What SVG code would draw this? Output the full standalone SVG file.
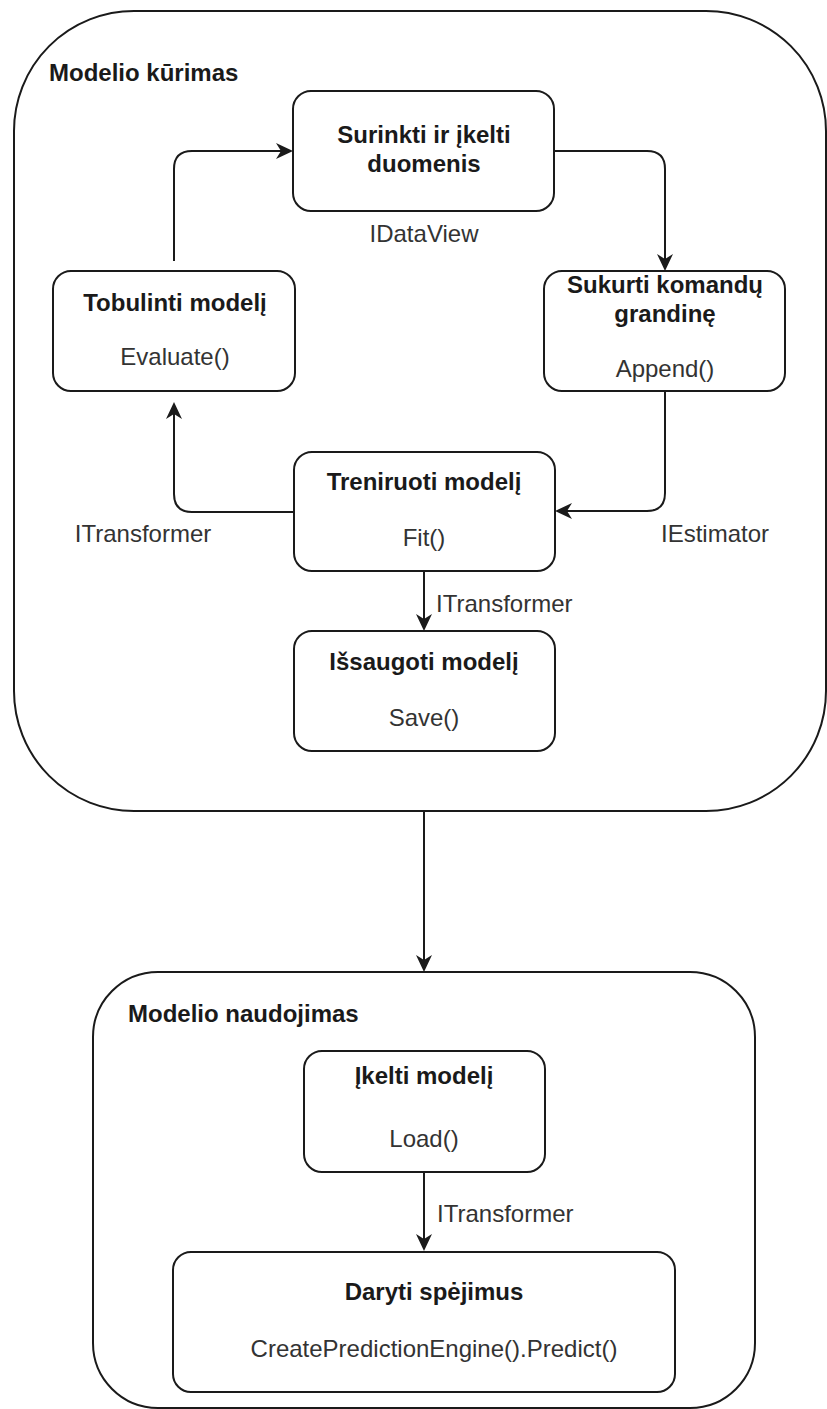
<svg xmlns="http://www.w3.org/2000/svg" width="827" height="1409" viewBox="0 0 827 1409">
<style>
.box{fill:#fff;stroke:#1a1a1a;stroke-width:2}
.cont{fill:#fff;stroke:#1a1a1a;stroke-width:2}
.edge{fill:none;stroke:#1a1a1a;stroke-width:2;marker-end:url(#arr)}
.b{font-family:"Liberation Sans",Arial,sans-serif;font-size:24px;font-weight:bold;fill:#1a1a1a;text-anchor:middle}
.t{font-family:"Liberation Sans",Arial,sans-serif;font-size:24px;fill:#333;text-anchor:middle}
.lbl{font-family:"Liberation Sans",Arial,sans-serif;font-size:24px;fill:#333}
.title{font-family:"Liberation Sans",Arial,sans-serif;font-size:24px;font-weight:bold;fill:#1a1a1a}
</style>
<defs>
<marker id="arr" viewBox="-14 -9 19 18" refX="0" refY="0" markerWidth="19" markerHeight="18" markerUnits="userSpaceOnUse" orient="auto">
<path d="M4,0 L-13,-8 L-8,0 L-13,8 Z" fill="#1a1a1a"/>
</marker>
</defs>
<rect width="827" height="1409" fill="#fff"/>

<g id="container-kurimas">
<rect class="cont" x="14" y="11" width="812" height="800" rx="120" ry="120"/>
<text class="title" x="49" y="81">Modelio kūrimas</text>
</g>

<g id="container-naudojimas">
<rect class="cont" x="93" y="972" width="662" height="436" rx="65" ry="65"/>
<text class="title" x="128" y="1022">Modelio naudojimas</text>
</g>

<g id="node-surinkti">
<rect class="box" x="293" y="91" width="261" height="120" rx="18" ry="18"/>
<text class="b" x="424" y="143">Surinkti ir įkelti</text>
<text class="b" x="424" y="172">duomenis</text>
</g>

<g id="node-sukurti">
<rect class="box" x="544" y="271" width="241" height="120" rx="18" ry="18"/>
<text class="b" x="665" y="293">Sukurti komandų</text>
<text class="b" x="665" y="322">grandinę</text>
<text class="t" x="665" y="377">Append()</text>
</g>

<g id="node-tobulinti">
<rect class="box" x="53" y="271" width="242" height="120" rx="18" ry="18"/>
<text class="b" x="175" y="311">Tobulinti modelį</text>
<text class="t" x="175" y="365">Evaluate()</text>
</g>

<g id="node-treniruoti">
<rect class="box" x="294" y="452" width="261" height="119" rx="18" ry="18"/>
<text class="b" x="424" y="490">Treniruoti modelį</text>
<text class="t" x="424" y="546">Fit()</text>
</g>

<g id="node-issaugoti">
<rect class="box" x="294" y="631" width="261" height="120" rx="18" ry="18"/>
<text class="b" x="424" y="670">Išsaugoti modelį</text>
<text class="t" x="424" y="726">Save()</text>
</g>

<g id="node-ikelti">
<rect class="box" x="304" y="1051" width="241" height="121" rx="18" ry="18"/>
<text class="b" x="424" y="1084">Įkelti modelį</text>
<text class="t" x="424" y="1147">Load()</text>
</g>

<g id="node-daryti">
<rect class="box" x="173" y="1252" width="502" height="140" rx="18" ry="18"/>
<text class="b" x="434" y="1300">Daryti spėjimus</text>
<text class="t" x="434" y="1357">CreatePredictionEngine().Predict()</text>
</g>

<g id="connectors">
<path class="edge" d="M174,261 V169 Q174,151 192,151 H289"/>
<path class="edge" d="M554,151 H647 Q665,151 665,169 V267"/>
<path class="edge" d="M665,391 V493 Q665,511 647,511 H559"/>
<path class="edge" d="M294,512 H192 Q174,512 174,494 V406"/>
<path class="edge" d="M424,571 V627"/>
<path class="edge" d="M424,811 V968"/>
<path class="edge" d="M424,1172 V1247"/>
<text class="t" x="424" y="242">IDataView</text>
<text class="t" x="143" y="542">ITransformer</text>
<text class="t" x="715" y="542">IEstimator</text>
<text class="lbl" x="436" y="612">ITransformer</text>
<text class="lbl" x="437" y="1222">ITransformer</text>
</g>
</svg>
